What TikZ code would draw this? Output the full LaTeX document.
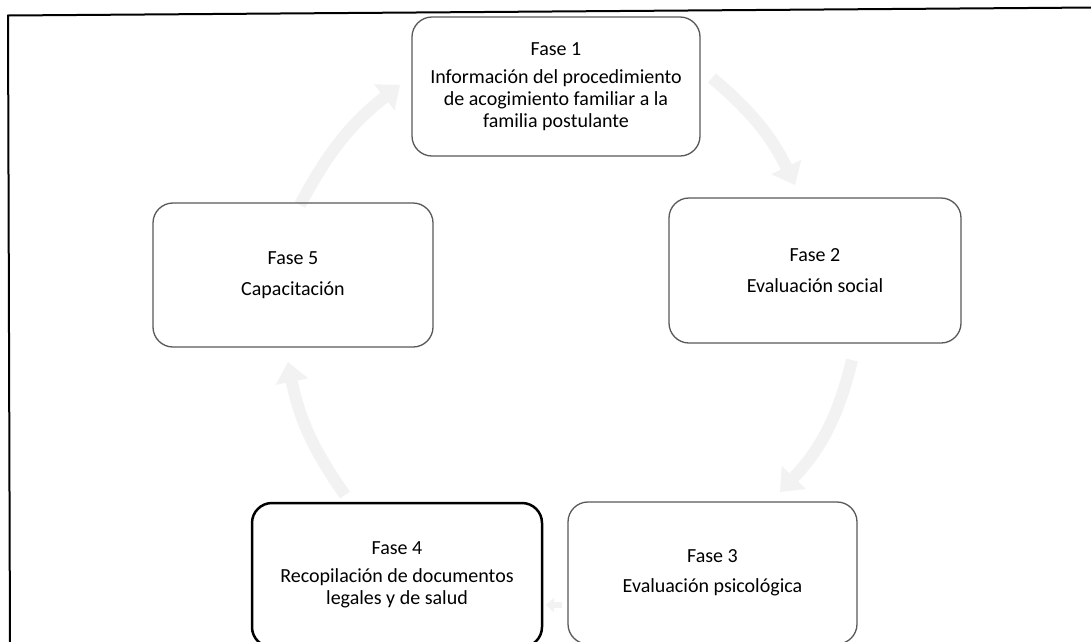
\documentclass[tikz,border=0pt]{standalone}
\usepackage{fontspec}
\setmainfont{Carlito}
\usetikzlibrary{arrows.meta}
\begin{document}
\begin{tikzpicture}[x=1pt,y=-1pt,
  phase/.style={draw=black!65,line width=1.3pt,rounded corners=20pt,inner sep=0pt,
    align=center,font=\fontsize{20}{22}\selectfont,text=black},
  cyc/.style={draw=black!5,line width=12pt,
    -{Triangle[length=20pt,width=32pt]}},
  frame/.style={draw=black,line width=2pt}]
\clip (0,0) rectangle (1091,641);
\fill[white] (0,0) rectangle (1091,641);
% faint cycle arrows
\coordinate (a1s) at (300,205);
\coordinate (a1e) at (400,85);
\coordinate (a2s) at (712,78);
\coordinate (a2e) at (795,185);
\coordinate (a3s) at (852,360);
\coordinate (a3e) at (780,492);
\coordinate (a4s) at (562,605);
\coordinate (a4e) at (546,605);
\coordinate (a5s) at (345,495);
\coordinate (a5e) at (288,362);
\draw[cyc] (a1s) to[bend left=12] (a1e);
\draw[cyc] (a2s) to[bend left=12] (a2e);
\draw[cyc] (a3s) to[bend left=15] (a3e);
\draw[draw=black!5,line width=6pt,-{Triangle[length=8pt,width=14pt]}] (a4s) -- (a4e);
\draw[cyc] (a5s) to[bend left=12] (a5e);
% outer frame (only top and left sides visible)
\coordinate (tl) at (8,15.5);
\coordinate (tr) at (1095,7.5);
\coordinate (bl) at (10,650);
\draw[frame] (tr) -- (tl) -- (bl);
% phase boxes
\node[phase,minimum width=288pt,minimum height=139pt] (f1) at (556,86.5)
  {Fase 1\\[6pt]Información del procedimiento\\de acogimiento familiar a la\\familia postulante};
\node[phase,minimum width=292pt,minimum height=145pt] (f2) at (815,270.5)
  {Fase 2\\[9pt]Evaluación social};
\node[phase,minimum width=289pt,minimum height=142pt] (f3) at (712.5,573)
  {Fase 3\\[8pt]Evaluación psicológica};
\node[phase,draw=black,line width=2.5pt,minimum width=290pt,minimum height=144pt] (f4) at (397,575)
  {Fase 4\\[6pt]Recopilación de documentos\\legales y de salud};
\node[phase,minimum width=280pt,minimum height=144pt] (f5) at (293,275)
  {Fase 5\\[9pt]Capacitación};
\end{tikzpicture}
\end{document}
